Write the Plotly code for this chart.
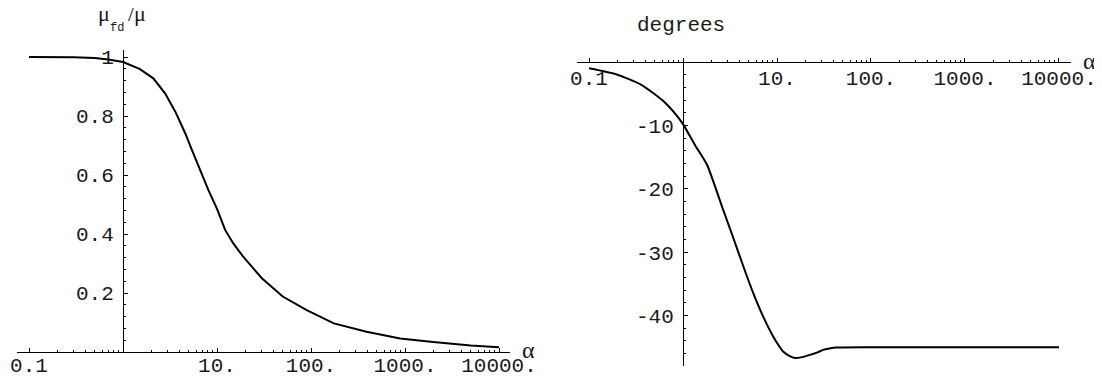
import plotly.graph_objects as go

# ---- data ----
alpha_mag = [0.1, 0.2, 0.3, 0.5, 0.7, 1.0, 1.2, 1.5, 2.1, 2.8, 3.6, 4.6, 5.4, 6.6, 8.1,
             10, 12.2, 14.9, 19, 30, 50, 90, 175, 390, 885, 2000, 5000, 10000]
mu_ratio = [1.0, 1.0, 0.999, 0.997, 0.992, 0.983, 0.973, 0.96, 0.928, 0.877, 0.815, 0.741,
            0.685, 0.617, 0.549, 0.485, 0.414, 0.368, 0.323, 0.250, 0.188, 0.142, 0.097,
            0.069, 0.046, 0.034, 0.022, 0.016]

alpha_phase = [0.1, 0.2, 0.36, 0.6, 0.82, 1.0, 1.34, 1.8, 2.6, 3.4, 4.4, 5.6, 7.15, 9.1,
               10.3, 11.7, 13.5, 15.5, 18.5, 22.4, 27, 31, 36, 43, 100, 1000, 10000]
phase_deg = [-1.0, -2.0, -3.6, -6.0, -8.1, -9.8, -13.1, -16.2, -22.8, -27.6, -32.3, -36.5,
             -40.2, -43.3, -44.6, -45.7, -46.35, -46.7, -46.55, -46.2, -45.8, -45.4,
             -45.2, -45.05, -45.0, -45.0, -45.0]

x_major = [0.1, 1, 10, 100, 1000, 10000]
x_major_text = ["0.1", "", "10.", "100.", "1000.", "10000."]
x_minor = [m * d for d in [0.1, 1, 10, 100, 1000] for m in range(2, 10)]

y1_major = [0.2, 0.4, 0.6, 0.8, 1.0]
y1_major_text = ["0.2", "0.4", "0.6", "0.8", "1"]
y1_minor = [round(0.04 * i, 2) for i in range(1, 26)]

y2_major = [-10, -20, -30, -40]
y2_major_text = ["-10", "-20", "-30", "-40"]
y2_minor = [-2 * i for i in range(1, 24)]

# ---- figure geometry (page body has an 8px margin) ----
OFF = 8
W, H = 1102 - OFF, 386 - OFF
MONO = "Liberation Mono, Courier New, monospace"
SERIF = "Liberation Serif, Times New Roman, serif"
TXT = "#1a1a1a"

def px(x):
    return (x - OFF) / W

def py(y):
    return 1 - (y - OFF) / H

fig = go.Figure()
fig.add_trace(go.Scatter(x=alpha_mag, y=mu_ratio, mode="lines",
                         line=dict(color="black", width=2), xaxis="x", yaxis="y",
                         showlegend=False, hoverinfo="skip"))
fig.add_trace(go.Scatter(x=alpha_phase, y=phase_deg, mode="lines",
                         line=dict(color="black", width=2, shape="spline", smoothing=0.6),
                         xaxis="x2", yaxis="y2", showlegend=False, hoverinfo="skip"))

common_x = dict(type="log", showgrid=False, zeroline=False, showline=True, automargin=False,
                linecolor="black", linewidth=1, ticks="inside", ticklen=4,
                tickcolor="black", tickwidth=1, tickvals=x_major, ticktext=x_major_text,
                tickfont=dict(family=MONO, size=21, color=TXT),
                minor=dict(ticks="inside", ticklen=2, tickcolor="black", tickwidth=1,
                           tickvals=x_minor, showgrid=False))
common_y = dict(showgrid=False, zeroline=False, showline=True, linecolor="black",
                linewidth=1, ticks="inside", ticklen=4, tickcolor="black", tickwidth=1,
                automargin=False, tickfont=dict(family=MONO, size=21, color=TXT),
                side="left", ticklabelstandoff=5)

fig.update_layout(
    width=W, height=H, margin=dict(l=0, r=0, t=0, b=0),
    paper_bgcolor="white", plot_bgcolor="white",
    xaxis=dict(common_x, domain=[px(17), px(510)], range=[-1.128, 4.117], anchor="y",
               ticklabelstandoff=-6),
    yaxis=dict(common_y, domain=[py(352), py(50)], range=[0, 1.024], anchor="free",
               position=px(123), tickvals=y1_major, ticktext=y1_major_text,
               minor=dict(ticks="inside", ticklen=2, tickcolor="black", tickwidth=1,
                          tickvals=y1_minor, showgrid=False)),
    xaxis2=dict(common_x, domain=[px(577), px(1071)], range=[-1.128, 4.128],
                anchor="free", position=py(62), side="bottom", ticklabelstandoff=-3),
    yaxis2=dict(common_y, domain=[py(366), py(62)], range=[-47.95, 0], anchor="free",
                position=px(683), tickvals=y2_major, ticktext=y2_major_text,
                minor=dict(ticks="inside", ticklen=2, tickcolor="black", tickwidth=1,
                           tickvals=y2_minor, showgrid=False)),
)

def ann(text, x, y, family, size):
    fig.add_annotation(text=text, x=px(x), y=py(y), xref="paper", yref="paper",
                       xanchor="center", yanchor="middle", showarrow=False,
                       font=dict(family=family, size=size, color=TXT))

ann("μ", 104, 14, SERIF, 22)
ann("fd", 116.5, 28, MONO, 12)
ann("/μ", 137, 14, SERIF, 22)
ann("α", 528, 350, SERIF, 24)
ann("degrees", 681, 25, MONO, 21)
ann("α", 1089, 61, SERIF, 24)

fig.write_html("out.html")
